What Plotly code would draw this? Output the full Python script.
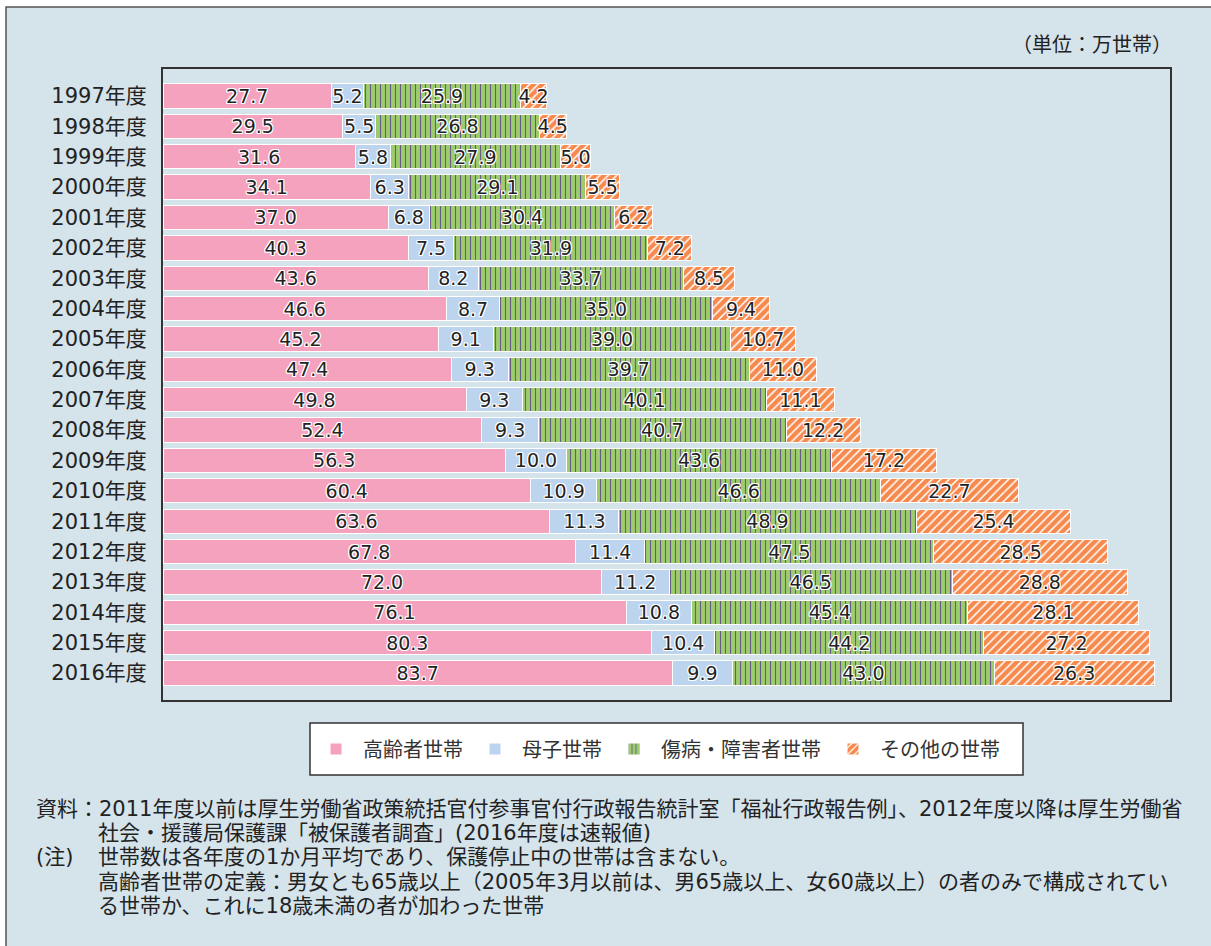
import plotly.graph_objects as go

years = ["1997年度", "1998年度", "1999年度", "2000年度", "2001年度", "2002年度", "2003年度",
         "2004年度", "2005年度", "2006年度", "2007年度", "2008年度", "2009年度", "2010年度",
         "2011年度", "2012年度", "2013年度", "2014年度", "2015年度", "2016年度"]
elderly = [27.7, 29.5, 31.6, 34.1, 37.0, 40.3, 43.6, 46.6, 45.2, 47.4, 49.8, 52.4, 56.3, 60.4,
           63.6, 67.8, 72.0, 76.1, 80.3, 83.7]
mother_child = [5.2, 5.5, 5.8, 6.3, 6.8, 7.5, 8.2, 8.7, 9.1, 9.3, 9.3, 9.3, 10.0, 10.9,
                11.3, 11.4, 11.2, 10.8, 10.4, 9.9]
sick_disabled = [25.9, 26.8, 27.9, 29.1, 30.4, 31.9, 33.7, 35.0, 39.0, 39.7, 40.1, 40.7, 43.6, 46.6,
                 48.9, 47.5, 46.5, 45.4, 44.2, 43.0]
other = [4.2, 4.5, 5.0, 5.5, 6.2, 7.2, 8.5, 9.4, 10.7, 11.0, 11.1, 12.2, 17.2, 22.7,
         25.4, 28.5, 28.8, 28.1, 27.2, 26.3]
series_names = ["高齢者世帯", "母子世帯", "傷病・障害者世帯", "その他の世帯"]

FONT = "DejaVu Sans, Noto Sans CJK JP"
CJK = "Noto Sans CJK JP"
W, H = 1211, 946
L, R, T, B = 163, 41, 69, 246
PW, PH = W - L - R, H - T - B


def px_x(sx):
    return (sx - L) / PW


def px_y(sy):
    return (H - B - sy) / PH


halo = ("1px 1px 0 #fff, -1px -1px 0 #fff, 1px -1px 0 #fff, -1px 1px 0 #fff, "
        "0 1px 0 #fff, 0 -1px 0 #fff, 1px 0 0 #fff, -1px 0 0 #fff")

fig = go.Figure()

styles = [
    dict(color="#f5a2bf"),
    dict(color="#bcd4ee"),
    dict(color="#9ccc6c", pattern=dict(shape="|", fgcolor="#6a5c88", bgcolor="#9ccc6c",
                                       size=5, solidity=0.22, fillmode="replace")),
    dict(color="#f68a4e", pattern=dict(shape="/", fgcolor="#ffffff", bgcolor="#f68a4e",
                                       size=6, solidity=0.25, fillmode="replace")),
]
for name, vals, st in zip(series_names, [elderly, mother_child, sick_disabled, other], styles):
    fig.add_trace(go.Bar(
        y=years, x=vals, name=name, orientation="h",
        marker=dict(line=dict(color="#ffffff", width=1), **st),
        text=[f"{v:.1f}" for v in vals],
        textposition="inside", insidetextanchor="middle", textangle=0,
        constraintext="none",
        textfont=dict(family=FONT, size=19, color="#222222", shadow=halo),
        hoverinfo="skip",
    ))

fig.update_layout(
    barmode="stack",
    bargap=0.2,
    width=W, height=H,
    margin=dict(l=L, r=R, t=T, b=B, pad=0),
    paper_bgcolor="#ffffff",
    plot_bgcolor="#ffffff",
    font=dict(family=FONT, size=20, color="#222222"),
    uniformtext=dict(minsize=19, mode="show"),
    showlegend=True,
    legend=dict(
        orientation="h", x=px_x(657), xanchor="center", y=px_y(749), yanchor="middle",
        bgcolor="rgba(0,0,0,0)", borderwidth=0,
        font=dict(family=CJK, size=20, color="#333333"),
        traceorder="normal", itemwidth=44,
    ),
    xaxis=dict(range=[0, 165.5], showgrid=False, showticklabels=False, zeroline=False,
               showline=True, mirror=True, linecolor="#333333", linewidth=2, ticks=""),
    yaxis=dict(range=[19.89, -0.89], showgrid=False, ticks="", ticklabelstandoff=10,
               showline=True, mirror=True, linecolor="#333333", linewidth=2,
               tickfont=dict(family=FONT, size=21, color="#222222")),
    shapes=[
        dict(type="rect", xref="paper", yref="paper",
             x0=px_x(6), x1=px_x(1240), y0=px_y(980), y1=px_y(7),
             fillcolor="#d5e3eb", line=dict(color="#555555", width=1.5), layer="below"),
        dict(type="rect", xref="paper", yref="paper",
             x0=px_x(310), x1=px_x(1023), y0=px_y(775), y1=px_y(723),
             fillcolor="#ffffff", line=dict(color="#333333", width=1.5), layer="below"),
    ],
)

fig.add_annotation(text="（単位：万世帯）", xref="paper", yref="paper",
                   x=px_x(1174), y=px_y(45), xanchor="right", yanchor="middle",
                   showarrow=False, font=dict(family=FONT, size=20, color="#222222"))

notes = [
    (34, 809, "資料：2011年度以前は厚生労働省政策統括官付参事官付行政報告統計室「福祉行政報告例」、2012年度以降は厚生労働省"),
    (96, 833, "社会・援護局保護課「被保護者調査」(2016年度は速報値)"),
    (34, 857, "(注)"),
    (96, 857, "世帯数は各年度の1か月平均であり、保護停止中の世帯は含まない。"),
    (96, 882, "高齢者世帯の定義：男女とも65歳以上（2005年3月以前は、男65歳以上、女60歳以上）の者のみで構成されてい"),
    (96, 906, "る世帯か、これに18歳未満の者が加わった世帯"),
]
for x, y, t in notes:
    fig.add_annotation(text=t, xref="paper", yref="paper", x=px_x(x), y=px_y(y),
                       xanchor="left", yanchor="middle", showarrow=False,
                       font=dict(family=FONT, size=21, color="#222222"))

fig.write_html(
    "out.html",
    config={"displayModeBar": False},
    post_script="document.body.style.margin='0';document.body.style.overflow='hidden';",
)
